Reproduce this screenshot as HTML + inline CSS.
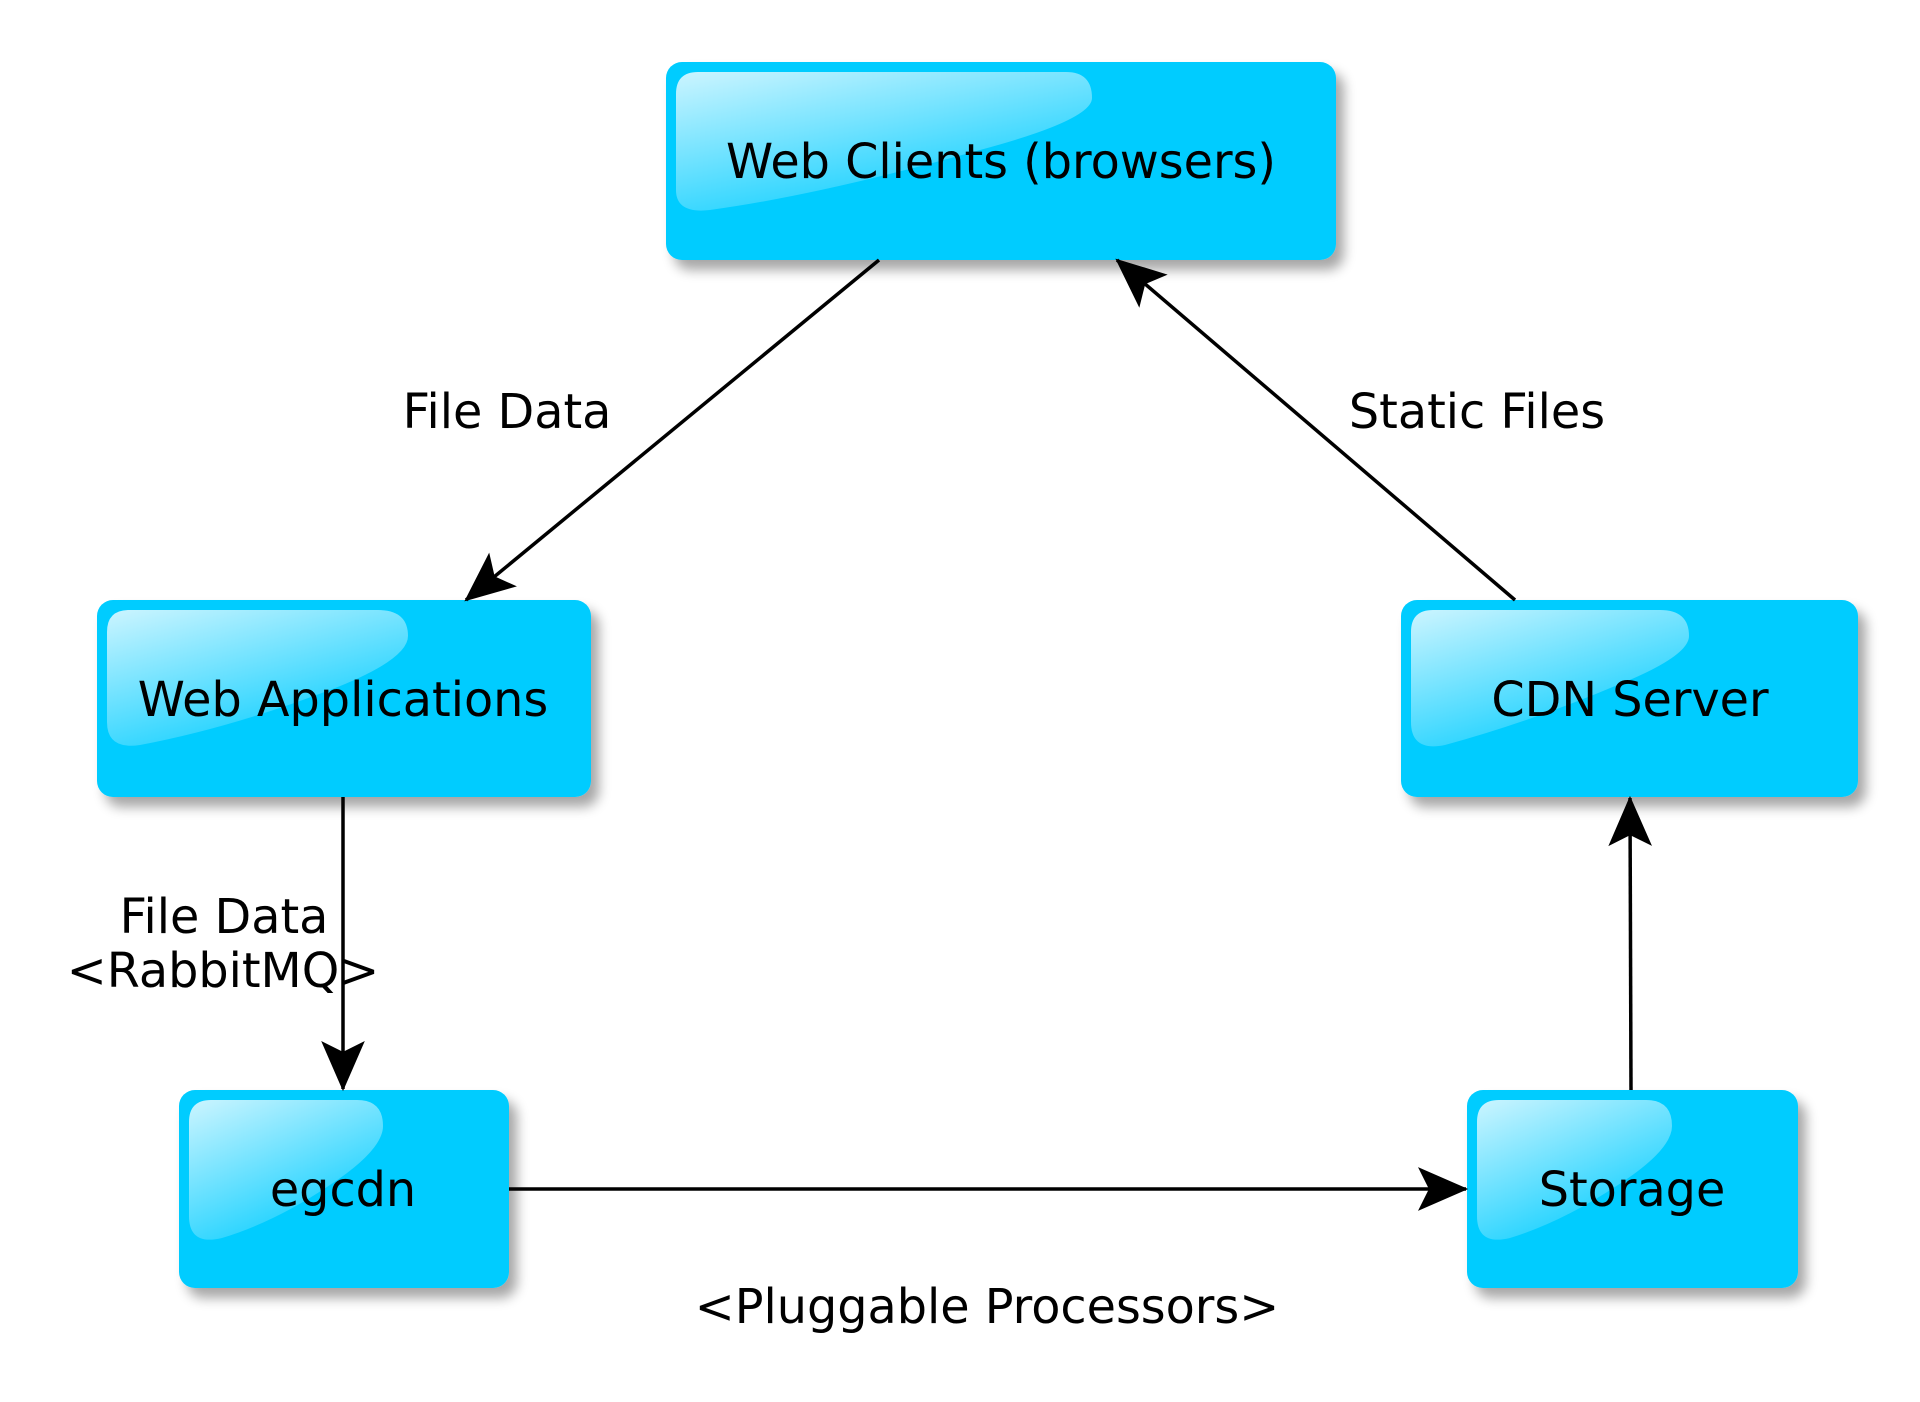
<!DOCTYPE html>
<html><head><meta charset="utf-8"><style>
html,body{margin:0;padding:0;background:#fff;}
svg{display:block;}
text{font-family:"DejaVu Sans","Liberation Sans",sans-serif;fill:#000;}
</style></head><body>
<svg width="1920" height="1402" viewBox="0 0 1920 1402" xmlns="http://www.w3.org/2000/svg">
<defs>
<filter id="sh" x="-10%" y="-10%" width="130%" height="140%">
<feGaussianBlur in="SourceAlpha" stdDeviation="6"/>
<feOffset dx="8" dy="10" result="b"/>
<feComponentTransfer><feFuncA type="linear" slope="0.35"/></feComponentTransfer>
<feMerge><feMergeNode/><feMergeNode in="SourceGraphic"/></feMerge>
</filter>
<linearGradient id="gl" x1="0" y1="0" x2="0.6" y2="1">
<stop offset="0" stop-color="#fff" stop-opacity="0.8"/>
<stop offset="1" stop-color="#fff" stop-opacity="0.05"/>
</linearGradient>
<marker id="ah" markerUnits="userSpaceOnUse" markerWidth="60" markerHeight="60" viewBox="-50 -25 55 50" refX="0" refY="0" orient="auto">
<path d="M2,0 L-44,-20 L-34,0 L-44,20 Z" fill="#000"/>
</marker>
</defs>

<g filter="url(#sh)">
<rect x="666" y="62" width="670" height="198" rx="16" fill="#00ccff"/>
<rect x="97" y="600" width="494" height="197" rx="16" fill="#00ccff"/>
<rect x="1401" y="600" width="457" height="197" rx="16" fill="#00ccff"/>
<rect x="179" y="1090" width="330" height="198" rx="16" fill="#00ccff"/>
<rect x="1467" y="1090" width="331" height="198" rx="16" fill="#00ccff"/>
</g>
<!-- gloss -->
<path d="M676,94 Q676,72 698,72 L1066,72 Q1092,72 1092,98 Q1092,120 980,150 Q820,195 710,210 Q676,214 676,190 Z" fill="url(#gl)"/>
<path d="M107,632 Q107,610 129,610 L378,610 Q408,610 408,636 Q408,660 330,690 Q230,728 140,745 Q107,750 107,722 Z" fill="url(#gl)"/>
<path d="M1411,632 Q1411,610 1433,610 L1660,610 Q1689,610 1689,636 Q1689,656 1620,684 Q1530,722 1445,745 Q1411,752 1411,722 Z" fill="url(#gl)"/>
<path d="M189,1122 Q189,1100 211,1100 L357,1100 Q383,1100 383,1126 Q383,1150 330,1185 Q275,1222 222,1238 Q189,1246 189,1216 Z" fill="url(#gl)"/>
<path d="M1477,1122 Q1477,1100 1499,1100 L1646,1100 Q1672,1100 1672,1126 Q1672,1150 1618,1185 Q1562,1222 1510,1238 Q1477,1246 1477,1216 Z" fill="url(#gl)"/>

<g stroke="#000" stroke-width="3.5" fill="none">
<line x1="879" y1="260" x2="466" y2="600" marker-end="url(#ah)"/>
<line x1="1515" y1="600" x2="1117" y2="260" marker-end="url(#ah)"/>
<line x1="343" y1="797" x2="343" y2="1089" marker-end="url(#ah)"/>
<line x1="509" y1="1189" x2="1466" y2="1189" marker-end="url(#ah)"/>
<line x1="1631" y1="1090" x2="1630" y2="798" marker-end="url(#ah)"/>
</g>

<g font-size="47.7" text-anchor="middle">
<text x="1001" y="178">Web Clients (browsers)</text>
<text x="343" y="716">Web Applications</text>
<text x="1630" y="716">CDN Server</text>
<text x="343" y="1206">egcdn</text>
<text x="1632" y="1206">Storage</text>
<text x="507" y="428">File Data</text>
<text x="1477" y="428">Static Files</text>
<text x="224" y="933">File Data</text>
<text x="223" y="987">&lt;RabbitMQ&gt;</text>
<text x="987" y="1323">&lt;Pluggable Processors&gt;</text>
</g>
</svg>
</body></html>
